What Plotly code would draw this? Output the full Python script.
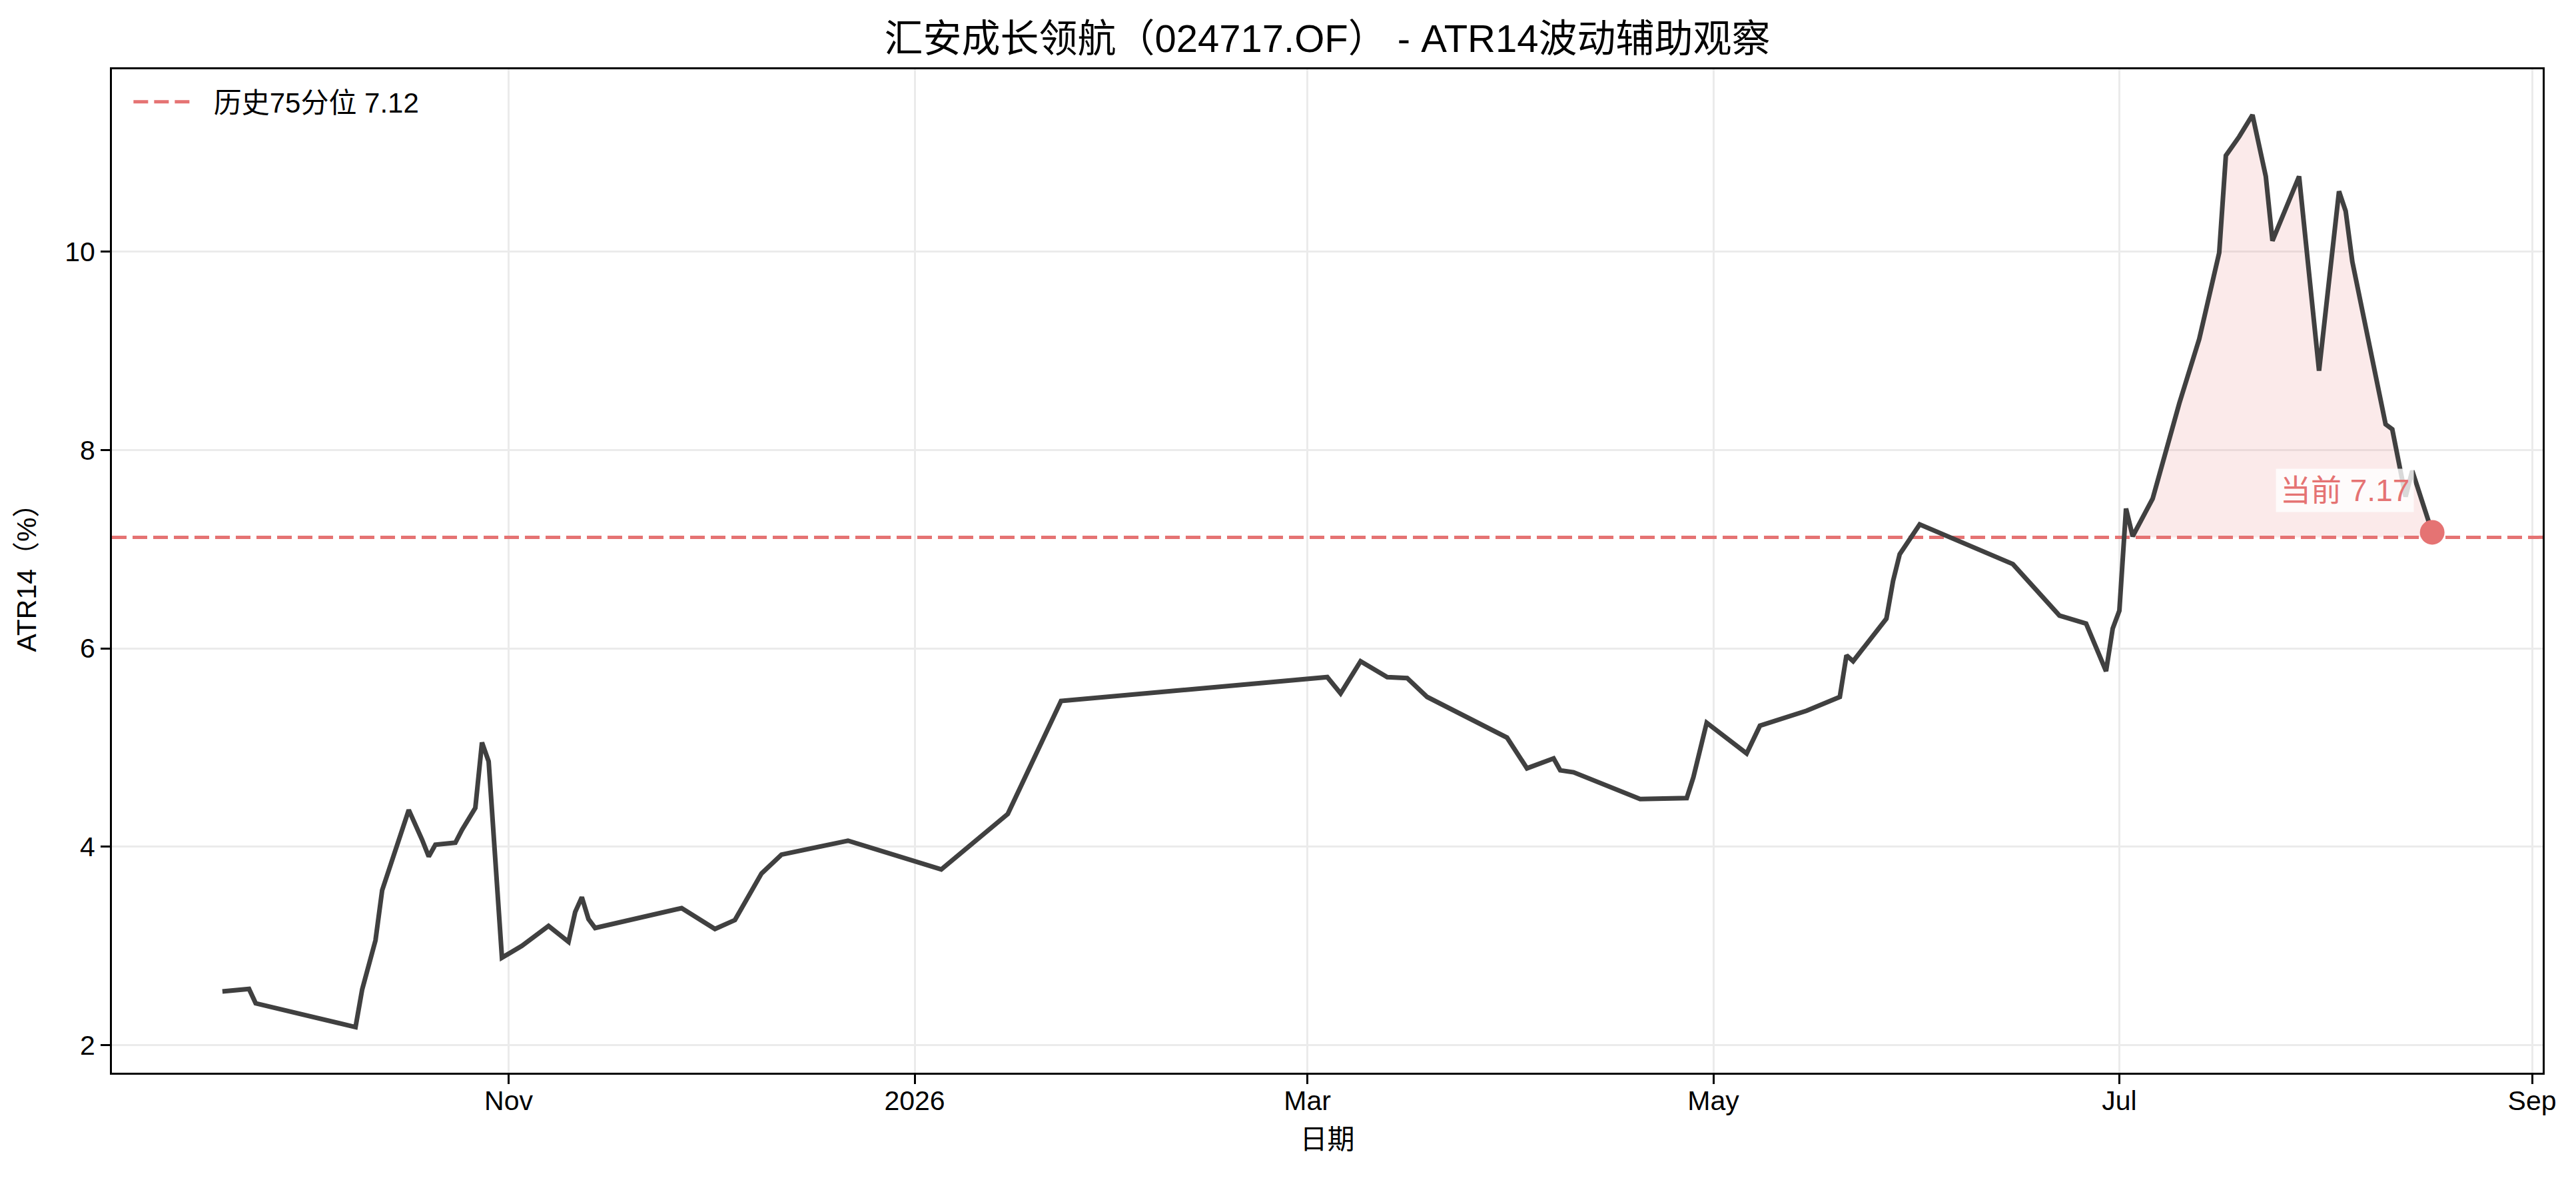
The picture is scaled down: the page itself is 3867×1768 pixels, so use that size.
import pandas as pd
import plotly.graph_objects as go

# ATR14 readings (percent), trading dates
dates = ["2025-09-19", "2025-09-23", "2025-09-24", "2025-10-09", "2025-10-10",
         "2025-10-12", "2025-10-13", "2025-10-14", "2025-10-15", "2025-10-17",
         "2025-10-19", "2025-10-20", "2025-10-21", "2025-10-24", "2025-10-25",
         "2025-10-27", "2025-10-28", "2025-10-29", "2025-10-31", "2025-11-03",
         "2025-11-07", "2025-11-10", "2025-11-11", "2025-11-12", "2025-11-13",
         "2025-11-14", "2025-11-27", "2025-12-02", "2025-12-05", "2025-12-09",
         "2025-12-12", "2025-12-22", "2026-01-05", "2026-01-15", "2026-01-23",
         "2026-03-04", "2026-03-06", "2026-03-09", "2026-03-13", "2026-03-16",
         "2026-03-19", "2026-03-31", "2026-04-03", "2026-04-07", "2026-04-08",
         "2026-04-10", "2026-04-20", "2026-04-27", "2026-04-28", "2026-04-30",
         "2026-05-06", "2026-05-08", "2026-05-15", "2026-05-20", "2026-05-21",
         "2026-05-22", "2026-05-27", "2026-05-28", "2026-05-29", "2026-06-01",
         "2026-06-15", "2026-06-22", "2026-06-26", "2026-06-29", "2026-06-30",
         "2026-07-01", "2026-07-02", "2026-07-03", "2026-07-06", "2026-07-10",
         "2026-07-13", "2026-07-16", "2026-07-17", "2026-07-19", "2026-07-21",
         "2026-07-23", "2026-07-24", "2026-07-28", "2026-07-31", "2026-08-03",
         "2026-08-04", "2026-08-05", "2026-08-10", "2026-08-11", "2026-08-13",
         "2026-08-14", "2026-08-17"]

atr14 = [2.54, 2.565, 2.42, 2.18, 2.56,
         3.055, 3.56, 3.76, 3.94, 4.37,
         4.07, 3.90, 4.02, 4.04, 4.17,
         4.39, 5.05, 4.86, 2.88, 3.00,
         3.20, 3.04, 3.34, 3.49, 3.27,
         3.18, 3.38, 3.17, 3.26, 3.73,
         3.92, 4.06, 3.77, 4.33, 5.47,
         5.71, 5.545, 5.87, 5.71, 5.70,
         5.51, 5.10, 4.79, 4.89, 4.77,
         4.75, 4.48, 4.49, 4.70, 5.25,
         4.94, 5.22, 5.37, 5.51, 5.93,
         5.87, 6.30, 6.68, 6.95, 7.25,
         6.85, 6.33, 6.25, 5.77, 6.20,
         6.38, 7.41, 7.13, 7.51, 8.47,
         9.12, 9.99, 10.97, 11.16, 11.38,
         10.76, 10.11, 10.76, 8.80, 10.61,
         10.41, 9.90, 8.26, 8.21, 7.53,
         7.79, 7.17]

p75 = 7.12
tick_dates = ["2025-11-01", "2026-01-01", "2026-03-01", "2026-05-01", "2026-07-01", "2026-09-01"]
tick_text = ["Nov", "2026", "Mar", "May", "Jul", "Sep"]

RED = "#e57373"
LINE = "#404040"
FONT = "Liberation Sans, Arial, Noto Sans CJK SC, sans-serif"

df = pd.DataFrame({"date": pd.to_datetime(dates), "atr": atr14})

# 5% padding like matplotlib autoscale
span = df["date"].max() - df["date"].min()
x0 = df["date"].min() - span * 0.05
x1 = df["date"].max() + span * 0.05
yspan = df["atr"].max() - df["atr"].min()
y0 = df["atr"].min() - yspan * 0.05
y1 = df["atr"].max() + yspan * 0.05

fig = go.Figure()

# shade runs above the 75th percentile
above = df["atr"] > p75
run_id = (above != above.shift()).cumsum()
for _, run in df[above].groupby(run_id[above]):
    if len(run) < 2:
        continue
    fig.add_trace(go.Scatter(x=run["date"], y=[p75] * len(run), mode="lines",
                             line=dict(width=0), showlegend=False, hoverinfo="skip"))
    fig.add_trace(go.Scatter(x=run["date"], y=run["atr"], mode="lines",
                             line=dict(width=0), fill="tonexty",
                             fillcolor="rgba(229,115,115,0.15)",
                             showlegend=False, hoverinfo="skip"))

fig.add_trace(go.Scatter(x=[x0, x1], y=[p75, p75], mode="lines",
                         name=f"\u00a0\u00a0历史75分位 {p75:.2f}",
                         line=dict(color=RED, width=5, dash="22px,9px")))

fig.add_trace(go.Scatter(x=df["date"], y=df["atr"], mode="lines",
                         line=dict(color=LINE, width=7), showlegend=False))

last = df.iloc[-1]
fig.add_trace(go.Scatter(x=[last["date"]], y=[last["atr"]], mode="markers",
                         marker=dict(color=RED, size=37, line=dict(width=0)),
                         showlegend=False))

fig.add_annotation(x=last["date"], y=last["atr"], text=f"当前 {last['atr']:.2f}",
                   showarrow=False, xshift=-131, yshift=63,
                   font=dict(size=46, color=RED, family=FONT),
                   bgcolor="rgba(255,255,255,0.8)", borderpad=6)

axis_common = dict(showline=True, linecolor="black", linewidth=3, mirror=True,
                   ticks="outside", ticklen=14, tickwidth=3, tickcolor="black",
                   showgrid=True, gridcolor="#ebebeb", gridwidth=3,
                   zeroline=False, automargin=False,
                   tickfont=dict(size=41, color="black", family=FONT),
                   title_font=dict(size=41, color="black", family=FONT))

fig.update_xaxes(range=[x0, x1], tickvals=pd.to_datetime(tick_dates), ticktext=tick_text,
                 title_text="日期", title_standoff=22, ticklabelstandoff=-10, **axis_common)
fig.update_yaxes(range=[y0, y1], tickvals=[2, 4, 6, 8, 10],
                 title_text="ATR14（%）", title_standoff=30, ticklabelstandoff=0, **axis_common)

# page body has an 8px margin, so the figure is shifted by that much
W, H = 3851, 1752
fig.update_layout(
    template="none",
    width=W, height=H,
    margin=dict(l=160, r=42, t=96, b=150),
    paper_bgcolor="white", plot_bgcolor="white",
    font=dict(family=FONT, color="black"),
    title=dict(text="汇安成长领航（024717.OF） - ATR14波动辅助观察",
               x=0.5, xref="paper", xanchor="center",
               y=1 - 50 / H, yref="container", yanchor="middle",
               font=dict(size=58, color="black", family=FONT)),
    legend=dict(x=0.0075, y=0.99, xanchor="left", yanchor="top",
                bgcolor="rgba(0,0,0,0)", borderwidth=0,
                font=dict(size=42, color="black", family=FONT),
                itemwidth=92),
    showlegend=True,
)

fig.write_html("out.html")
